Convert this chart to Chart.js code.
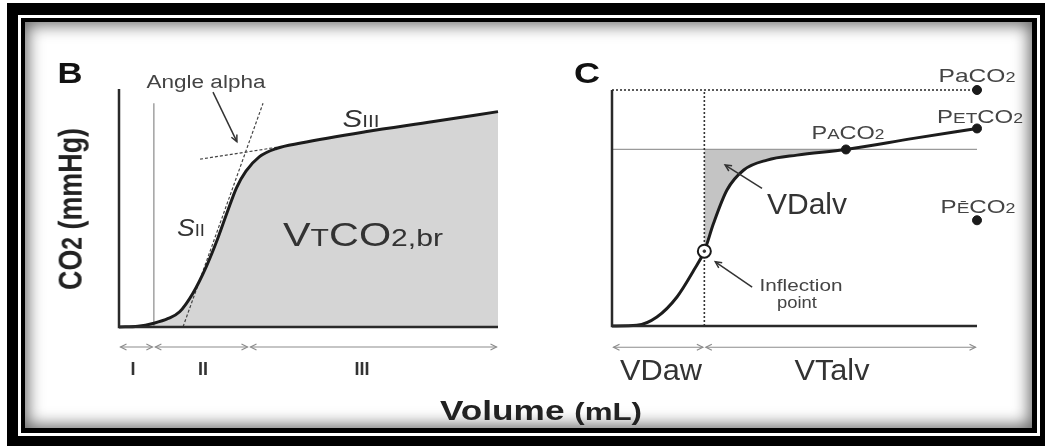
<!DOCTYPE html>
<html><head><meta charset="utf-8">
<script src="https://cdn.jsdelivr.net/npm/chart.js@4"></script>
<style>
html,body{margin:0;padding:0;background:#fff;}
#wrap{position:relative;width:1045px;height:446px;overflow:hidden;font-family:"Liberation Sans",Arial,Helvetica,sans-serif;}
.abs{position:absolute;}
#f1{left:7px;top:3px;width:1038px;height:443px;background:#000;}
#f2{left:18px;top:15px;width:1022px;height:421px;background:#fff;}
#f3{left:21px;top:18px;width:1016px;height:415px;background:#000;}
#f4{left:25px;top:22px;width:1007px;height:406px;background:#fff;box-shadow:inset 0 0 16px 3px rgba(0,0,0,0.6);}
canvas{position:absolute;top:0;}
.lbl{position:absolute;white-space:nowrap;line-height:1;color:#3a3a3a;}
</style></head>
<body>
<div id="wrap">
  <div id="f1" class="abs"></div><div id="f2" class="abs"></div><div id="f3" class="abs"></div><div id="f4" class="abs"></div>
  <canvas id="cB" width="522" height="446" style="left:0;width:522px;height:446px"></canvas>
  <canvas id="cC" width="523" height="446" style="left:522px;width:523px;height:446px"></canvas>
</div>
<script>
// ---------- DATA ----------
// Panel B: volumetric capnogram (normalised volume 0-100, CO2 0-100)
const curveB_x = [0, 5, 9.2, 13, 16, 19.5, 23, 26, 28.5, 31, 33.5, 37, 41.5, 48, 65, 83, 100];
const curveB_y = [0, 0.3, 1.6, 3.6, 6.4, 14.2, 25.3, 37, 48, 58.5, 65.5, 71.5, 75, 77.3, 82, 86.3, 90.5];
const phaseBoundsB = [0, 9.2, 34.3, 100];
const phaseNamesB = ['I', 'II', 'III'];
const tangentSII_x = [16.9, 38];
const tangentSII_y = [0.1, 94];
const tangentSIII_x = [21.4, 41.6];
const tangentSIII_y = [70.5, 75.5];

// Panel C
const curveC_x = [0, 6.8, 12.3, 17.8, 22.4, 25.3, 27.8, 31.5, 36.1, 42.5, 50.7, 64.1, 82.6, 100];
const curveC_y = [0, 0.3, 3.8, 12.3, 23.6, 31.7, 43.4, 57.6, 66.1, 70.3, 72.4, 74.8, 79.5, 83.7];
const phaseBoundsC = [0, 25.3, 100];
const phaseNamesC = ['VDaw', 'VTalv'];
const inflectionX = 25.3, inflectionY = 31.7;
const markerNames = ['PaCO2', 'PETCO2', 'PACO2', 'PECO2'];
const markerX = [100, 100, 64.1, 100];
const markerY = [100, 83.7, 74.8, 44.8];
const PaCO2 = 100, PACO2 = 74.8;

// ---------- helpers ----------
const pts = (xs, ys) => xs.map((x, i) => ({x, y: ys[i]}));
const line = (data, extra) => Object.assign({data, borderColor:'#222', borderWidth:1, pointRadius:0, tension:0, fill:false, clip:false}, extra);

const annot = {
  id: 'annot',
  afterDatasetsDraw(chart, args, o) {
    const {ctx, scales:{x, y}} = chart;
    const X = v => x.getPixelForValue(v), Y = v => y.getPixelForValue(v);
    ctx.save();
    if (o.bounds) {
      ctx.strokeStyle = '#8c8c8c'; ctx.lineWidth = 1.2;
      const yy = Y(o.phaseY);
      for (let i = 0; i < o.bounds.length - 1; i++) {
        const a = X(o.bounds[i]) + 1.5, b = X(o.bounds[i+1]) - 1.5;
        ctx.beginPath(); ctx.moveTo(a, yy); ctx.lineTo(b, yy); ctx.stroke();
        ctx.beginPath(); ctx.moveTo(a+6, yy-3); ctx.lineTo(a, yy); ctx.lineTo(a+6, yy+3); ctx.stroke();
        ctx.beginPath(); ctx.moveTo(b-6, yy-3); ctx.lineTo(b, yy); ctx.lineTo(b-6, yy+3); ctx.stroke();
      }
    }
    ctx.strokeStyle = '#333'; ctx.lineWidth = 1.5;
    (o.arrows || []).forEach(a => {
      const x0 = X(a[0]), y0 = Y(a[1]), x1 = X(a[2]), y1 = Y(a[3]);
      const ang = Math.atan2(y1 - y0, x1 - x0);
      ctx.beginPath(); ctx.moveTo(x0, y0); ctx.lineTo(x1, y1); ctx.stroke();
      ctx.beginPath();
      ctx.moveTo(x1 - 7*Math.cos(ang - 0.45), y1 - 7*Math.sin(ang - 0.45));
      ctx.lineTo(x1, y1);
      ctx.lineTo(x1 - 7*Math.cos(ang + 0.45), y1 - 7*Math.sin(ang + 0.45));
      ctx.stroke();
    });
    ctx.restore();
  }
};

const baseOpts = (pad, ann) => ({
  responsive:false, animation:false, devicePixelRatio:1,
  layout:{padding:pad},
  scales:{x:{type:'linear', min:0, max:100, display:false}, y:{type:'linear', min:0, max:100, display:false}},
  plugins:{legend:{display:false}, tooltip:{enabled:false}, annot:ann},
  elements:{point:{radius:0}}
});

// ---------- Chart B ----------
new Chart(document.getElementById('cB'), {
  type:'line',
  data:{datasets:[
    line([{x:0,y:100},{x:0,y:0},{x:100,y:0}], {borderColor:'#2a2a2a', borderWidth:2.5, order:0}),
    line(pts(curveB_x, curveB_y), {borderColor:'#1c1c1c', borderWidth:3, cubicInterpolationMode:'monotone', order:1}),
    line(pts(tangentSII_x, tangentSII_y), {borderColor:'#444', borderWidth:1.2, borderDash:[3,2], order:2}),
    line(pts(tangentSIII_x, tangentSIII_y), {borderColor:'#444', borderWidth:1.2, borderDash:[3,2], order:2}),
    line([{x:phaseBoundsB[1],y:0},{x:phaseBoundsB[1],y:94}], {borderColor:'#8a8a8a', borderWidth:1.2, order:3}),
    line(pts(curveB_x, curveB_y), {borderWidth:0, borderColor:'rgba(0,0,0,0)', cubicInterpolationMode:'monotone', fill:'origin', backgroundColor:'#d5d5d5', order:10})
  ]},
  options: baseOpts({left:119, right:24, top:89, bottom:119},
    {bounds:phaseBoundsB, phaseY:-8.4, arrows:[[24.8, 98.7, 31.1, 77.9]]}),
  plugins:[annot]
});

// ---------- Chart C ----------
const fillIdx = curveC_x.map((v, i) => i).filter(i => curveC_x[i] >= inflectionX && curveC_x[i] <= markerX[2]);
new Chart(document.getElementById('cC'), {
  type:'line',
  data:{datasets:[
    line(pts(markerX, markerY), {showLine:false, pointRadius:4.5, pointBackgroundColor:'#1a1a1a', pointBorderColor:'#1a1a1a', order:0}),
    line([{x:inflectionX, y:inflectionY}], {showLine:false, pointRadius:6.5, pointBackgroundColor:'#fff', pointBorderColor:'#1a1a1a', pointBorderWidth:2, order:0}),
    line([{x:inflectionX, y:inflectionY}], {showLine:false, pointRadius:1.3, pointBackgroundColor:'#333', pointBorderColor:'#333', order:-1}),
    line([{x:0,y:100},{x:0,y:0},{x:100,y:0}], {borderColor:'#2a2a2a', borderWidth:2.5, order:1}),
    line(pts(curveC_x, curveC_y), {borderColor:'#1c1c1c', borderWidth:3, cubicInterpolationMode:'monotone', order:2}),
    line([{x:0,y:PaCO2},{x:100,y:PaCO2}], {borderColor:'#333', borderWidth:1.6, borderDash:[2,2], order:3}),
    line([{x:inflectionX,y:0},{x:inflectionX,y:PaCO2}], {borderColor:'#333', borderWidth:1.6, borderDash:[2,2], order:3}),
    line([{x:0,y:PACO2},{x:100,y:PACO2}], {borderColor:'#9a9a9a', borderWidth:1.2, order:4}),
    line(fillIdx.map(i => ({x:curveC_x[i], y:curveC_y[i]})), {borderWidth:0, borderColor:'rgba(0,0,0,0)', cubicInterpolationMode:'monotone', fill:{value:PACO2}, backgroundColor:'#c4c4c4', order:10})
  ]},
  options: baseOpts({left:90, right:68, top:90, bottom:120},
    {bounds:phaseBoundsC, phaseY:-9.0, arrows:[[41.1, 58.3, 31.0, 68.2], [38.4, 16.5, 28.3, 27.2]]}),
  plugins:[annot]
});

// ---------- Text labels (HTML overlay) ----------
const s = (fs, t) => '<span style="font-size:' + fs + 'px">' + t + '</span>';
const labels = [
  {h:'B', x:70, y:72.5, fs:30, fw:'bold', c:'#111', w:25},
  {h:'C', x:586.5, y:73, fs:30, fw:'bold', c:'#111', w:26},
  {h:'Angle alpha', x:205.5, y:81.5, fs:18, c:'#444', w:119},
  {h:'<i>S</i>' + s(16, 'III'), x:361, y:118.5, fs:23, c:'#333', w:37},
  {h:'<i>S</i>' + s(16, 'II'), x:191, y:228, fs:23, c:'#333', w:28},
  {h:'V' + s(24, 'T') + 'CO' + s(24, '2,br'), x:363, y:233.5, fs:33, c:'#333', w:160},
  {h:phaseNamesB[0], x:133, y:368.5, fs:18, fw:'bold', c:'#333'},
  {h:phaseNamesB[1], x:203, y:368.5, fs:18, fw:'bold', c:'#333'},
  {h:phaseNamesB[2], x:362, y:368.5, fs:18, fw:'bold', c:'#333'},
  {h:'Volume ' + s(24, '(mL)'), x:541, y:411, fs:27, fw:'bold', c:'#222', w:202},
  {h:'CO' + s(23, '2') + ' (mmHg)', x:71, y:209, fs:27, fw:'bold', c:'#222', w:162, rot:true},
  {h:'Pa' + 'CO' + s(14, '2'), x:976.5, y:74.5, fs:19, c:'#444', w:77},
  {h:'P' + s(15, 'ET') + 'CO' + s(14, '2'), x:980, y:115.5, fs:19, c:'#444', w:86},
  {h:'P' + s(15, 'A') + 'CO' + s(14, '2'), x:848, y:131.5, fs:19, c:'#444', w:73},
  {h:'P' + s(15, 'Ē') + 'CO' + s(14, '2'), x:977.5, y:205.5, fs:19, c:'#444', w:75},
  {h:'V' + 'Dalv', x:807, y:204, fs:30, c:'#333', w:80},
  {h:'Inflection', x:801, y:285, fs:17, c:'#444', w:83},
  {h:'point', x:797, y:302, fs:17, c:'#444', w:40},
  {h:phaseNamesC[0], x:661, y:370, fs:30, c:'#333', w:82},
  {h:phaseNamesC[1], x:832, y:370, fs:30, c:'#333', w:75}
];
const wrap = document.getElementById('wrap');
labels.forEach(L => {
  const d = document.createElement('div');
  d.className = 'lbl';
  d.innerHTML = L.h;
  d.style.fontSize = L.fs + 'px';
  d.style.fontWeight = L.fw || 'normal';
  d.style.color = L.c;
  d.style.left = L.x + 'px';
  d.style.top = L.y + 'px';
  wrap.appendChild(d);
  const mw = d.getBoundingClientRect().width;
  const sx = L.w ? L.w / mw : 1;
  d.style.transform = L.rot
    ? 'translate(-50%,-50%) rotate(-90deg) scale(' + sx + ',1.25)'
    : 'translate(-50%,-50%) scaleX(' + sx + ')';
});
</script>
</body></html>
